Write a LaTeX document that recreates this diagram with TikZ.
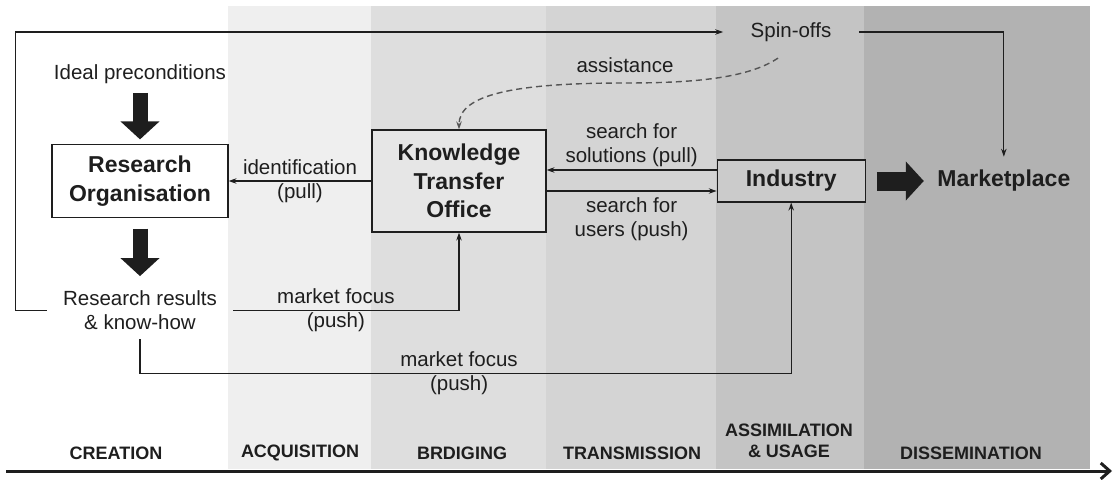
\documentclass[tikz,border=0pt]{standalone}
\usepackage{fontspec}
\setmainfont{Liberation Sans}
\usetikzlibrary{arrows.meta,positioning}

\definecolor{ink}{HTML}{1E1E1E}
\definecolor{dashgrey}{HTML}{555555}
\definecolor{bandA}{HTML}{EFEFEF}
\definecolor{bandB}{HTML}{DEDEDE}
\definecolor{bandC}{HTML}{D4D4D4}
\definecolor{bandD}{HTML}{C4C4C4}
\definecolor{bandE}{HTML}{B2B2B2}
\definecolor{ktofill}{HTML}{E6E6E6}
\definecolor{indfill}{HTML}{CBCBCB}

\tikzset{
  lbl/.style={font=\fontsize{20.5}{24}\selectfont, text=ink, align=center, inner sep=3pt},
  unit/.style={draw=ink, line width=1.2pt, font=\bfseries\fontsize{23}{28.5}\selectfont,
    text=ink, align=center, inner sep=3pt},
  phase/.style={font=\bfseries\fontsize{18}{21}\selectfont, text=ink, align=center},
  bigarrow/.style={line width=15pt, -{Triangle[length=18pt,width=38pt]}},
  assistline/.style={draw=dashgrey, line width=1.4pt, dash pattern=on 6pt off 4pt},
}

\begin{document}
\begin{tikzpicture}[x=1pt, y=-1pt, color=ink, line width=1.1pt,
    >={Stealth[length=8pt,width=5.5pt]}, node distance=10pt]

\useasboundingbox (0,0) rectangle (1113,479);

% phase bands
\foreach \xa/\xb/\c in {228/371/bandA, 371/546/bandB, 546/716/bandC, 716/864/bandD, 864/1090/bandE}
    {
    \fill[\c] (\xa,6) rectangle (\xb,469);
    }

% phase names
\node[phase] (creation) at (116,453) {CREATION};
\node[phase] (acquisition) at (300,453) {ACQUISITION};
\node[phase] (bridging) at (462,453) {BRDIGING};
\node[phase] (transmission) at (632,453) {TRANSMISSION};
\node[phase] (assimilation) at (789,441) {ASSIMILATION\\\& USAGE};
\node[phase] (dissemination) at (971,453) {DISSEMINATION};

% time axis
\coordinate (axisstart) at (6,471);
\coordinate (axisend) at (1112,471);
\draw[line width=3pt, -{Straight Barb[length=9pt,width=16pt]}] (axisstart) -- (axisend);

% actors
\node[unit, fill=white, minimum width=176pt, minimum height=73pt] (ro) at (140,181) {Research\\Organisation};
\node[lbl] (ideal) [above=57pt of ro] {Ideal preconditions};
\node[lbl, inner xsep=16pt] (results) [below=69pt of ro] {Research results\\\& know-how};
\node[unit, fill=ktofill, minimum width=174pt, minimum height=102pt] (kto) at (459,181) {Knowledge\\Transfer\\Office};
\node[unit, fill=indfill, minimum width=148pt, minimum height=42pt] (ind) [right=170pt of kto] {Industry};
\node[font=\bfseries\fontsize{23}{28}\selectfont, text=ink, inner sep=13pt] (market) [right=58pt of ind] {Marketplace};
\node[lbl, inner xsep=27pt] (spin) at (791,32) {Spin-offs};

% block arrows
\draw[bigarrow, shorten <=6pt, shorten >=4.5pt] (ideal) -- (ro);
\draw[bigarrow, shorten <=10.5pt, shorten >=11pt] (ro) -- (results);
\draw[bigarrow, line width=19pt, shorten <=11pt] (ind) -- (market);

% spin-off route
\draw[->] (results.west) -- ++(-31,0) |- (spin);
\draw[->] (spin) -| (market);

% assistance
\coordinate (assist) at (625,83);
\draw[assistline, ->] ([shift={(-13pt,-13pt)}]spin.south) .. controls +(-30,20) and +(70,0) .. (assist)
    node[lbl, above=7pt] {assistance}
    .. controls +(-110,0) and +(0,-35) .. (kto.north);

% pull and push
\draw[->] (kto) -- node[lbl] {identification\\(pull)} (ro);
\draw[->] ([yshift=11pt]ind.west) -- node[lbl, above] {search for\\solutions (pull)} ([yshift=11pt]kto.east);
\draw[->] ([yshift=-10pt]kto.east) -- node[lbl, below=3pt] {search for\\users (push)} ([yshift=-10pt]ind.west);

\draw[->] (results.east) -| node[lbl, pos=0.227] {market focus\\(push)} (kto.south);
\draw[->, shorten <=6pt] (results.south) -- ++(0,40) -| node[lbl, pos=0.245] {market focus\\(push)} (ind.south);

\end{tikzpicture}
\end{document}
